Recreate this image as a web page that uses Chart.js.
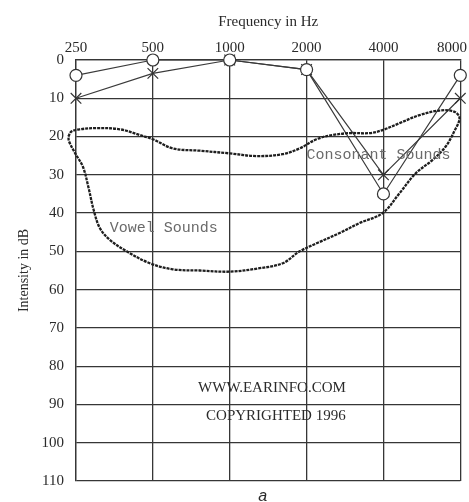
<!DOCTYPE html>
<html>
<head>
<meta charset="utf-8">
<script src="https://cdn.jsdelivr.net/npm/chart.js@4/dist/chart.umd.min.js"></script>
<style>
  html, body { margin: 0; padding: 0; background: #fff; }
  #wrap { width: 469px; height: 502px; position: relative; }
</style>
</head>
<body>
<div id="wrap"><canvas id="audiogram"></canvas></div>
<script>
// octave steps along the frequency axis
const freqLabels = ['250', '500', '1000', '2000', '4000', '8000'];
const levelTicks = [0, 10, 20, 30, 40, 50, 60, 70, 80, 90, 100, 110];

// hearing thresholds in dB
const circleLevels = [4, 0, 0, 2.5, 35, 4];
const crossLevels = [10, 3.5, 0, 2.5, 30, 10];

// outline of the speech area (octave position, dB)
const speechX = [-0.1, -0.06, 0.05, 0.27, 0.57, 0.83, 1.0, 1.26, 1.61, 2.0, 2.35, 2.69, 2.91, 3.13, 3.34, 3.56, 3.82, 3.99, 4.21, 4.47, 4.73, 4.92, 4.99, 4.92, 4.81, 4.64, 4.42, 4.21, 3.99, 3.69, 3.43, 3.13, 2.91, 2.69, 2.39, 2.0, 1.61, 1.26, 0.96, 0.66, 0.44, 0.31, 0.23, 0.16, 0.09, -0.01, -0.09, -0.1];
const speechY = [20, 18.7, 18.1, 17.8, 18.1, 19.6, 20.7, 23.1, 23.7, 24.4, 25.1, 24.6, 23.1, 20.7, 19.6, 19.1, 19.1, 18.3, 16.5, 14.4, 13.2, 13.5, 15.2, 18.7, 22.6, 26.1, 29.6, 34.8, 40.0, 42.6, 45.2, 47.9, 50.0, 53.1, 54.4, 55.3, 55.0, 54.7, 53.1, 50.0, 47.0, 43.9, 39.2, 33.1, 27.9, 24.4, 21.3, 20];

const toPoints = arr => arr.map((v, i) => ({ x: i, y: v }));
const speechPoints = speechX.map((x, i) => ({ x: x, y: speechY[i] }));

const gridColor = '#363636';
const textColor = '#2a2a2a';
const serif = '"Liberation Serif", "DejaVu Serif", serif';

// frequency labels along the top, plus the notes written on the chart
const labelsPlugin = {
  id: 'labels',
  afterDraw(chart) {
    const { ctx, scales: { x, y } } = chart;
    ctx.save();
    ctx.fillStyle = textColor;
    ctx.font = '15px ' + serif;
    ctx.textBaseline = 'middle';
    ctx.textAlign = 'center';
    freqLabels.forEach((lab, i) => {
      const w = ctx.measureText(lab).width;
      const px = Math.min(x.getPixelForValue(i), chart.width - 2 - w / 2);
      ctx.fillText(lab, px, 48);
    });

    ctx.font = '15px "Liberation Mono", "DejaVu Sans Mono", monospace';
    ctx.fillStyle = '#6a6a6a';
    ctx.textAlign = 'left';
    ctx.fillText('Consonant Sounds', x.getPixelForValue(3.0), y.getPixelForValue(24.8));
    ctx.fillText('Vowel Sounds', x.getPixelForValue(0.44), y.getPixelForValue(43.8));

    ctx.fillStyle = textColor;
    ctx.font = '15px ' + serif;
    ctx.textAlign = 'center';
    ctx.fillText('WWW.EARINFO.COM', x.getPixelForValue(2.55), y.getPixelForValue(85.8));
    ctx.fillText('COPYRIGHTED 1996', x.getPixelForValue(2.6), y.getPixelForValue(93));

    ctx.font = 'italic 16px "Liberation Sans", "DejaVu Sans", sans-serif';
    ctx.fillText('a', x.getPixelForValue(2.43), 497);
    ctx.restore();
  }
};

new Chart(document.getElementById('audiogram'), {
  type: 'scatter',
  data: {
    datasets: [
      {
        label: 'Speech area',
        data: speechPoints,
        showLine: true,
        borderColor: '#1e1e1e',
        borderWidth: 2.3,
        borderDash: [3, 1],
        pointRadius: 0,
        tension: 0.35,
        clip: false
      },
      {
        label: 'O',
        data: toPoints(circleLevels),
        showLine: true,
        borderColor: '#3a3a3a',
        borderWidth: 1.2,
        pointStyle: 'circle',
        pointRadius: 6,
        pointBackgroundColor: '#fff',
        pointBorderColor: '#333',
        pointBorderWidth: 1.2,
        clip: false
      },
      {
        label: 'X',
        data: toPoints(crossLevels),
        showLine: true,
        borderColor: '#3a3a3a',
        borderWidth: 1.2,
        pointStyle: 'crossRot',
        pointRadius: 7.5,
        pointBorderColor: '#333',
        pointBorderWidth: 1.2,
        clip: false
      }
    ]
  },
  options: {
    responsive: true,
    maintainAspectRatio: false,
    animation: false,
    layout: { padding: { left: 0, right: 8, top: 0, bottom: 21 } },
    plugins: {
      legend: { display: false },
      tooltip: { enabled: false }
    },
    scales: {
      x: {
        type: 'linear',
        position: 'top',
        min: 0,
        max: 5,
        afterFit: s => { s.height = 60; s.paddingLeft = 0; s.paddingRight = 0; },
        ticks: { display: false, stepSize: 1 },
        grid: { color: gridColor, lineWidth: 1.3, drawTicks: false },
        border: { color: gridColor, width: 1.3 },
        title: {
          display: true,
          text: 'Frequency in Hz',
          color: textColor,
          font: { family: serif, size: 15 },
          padding: { top: 13, bottom: 0 }
        }
      },
      y: {
        type: 'linear',
        reverse: true,
        min: 0,
        max: 110,
        afterFit: s => { s.width = 76; },
        afterBuildTicks: s => { s.ticks = levelTicks.map(v => ({ value: v })); },
        ticks: {
          color: textColor,
          font: { family: serif, size: 15 },
          padding: 12
        },
        grid: { color: gridColor, lineWidth: 1.3, drawTicks: false },
        border: { color: gridColor, width: 1.3 },
        title: {
          display: true,
          text: 'Intensity in dB',
          color: textColor,
          font: { family: serif, size: 14 },
          padding: { top: 16, bottom: 0 }
        }
      }
    }
  },
  plugins: [labelsPlugin]
});
</script>
</body>
</html>
